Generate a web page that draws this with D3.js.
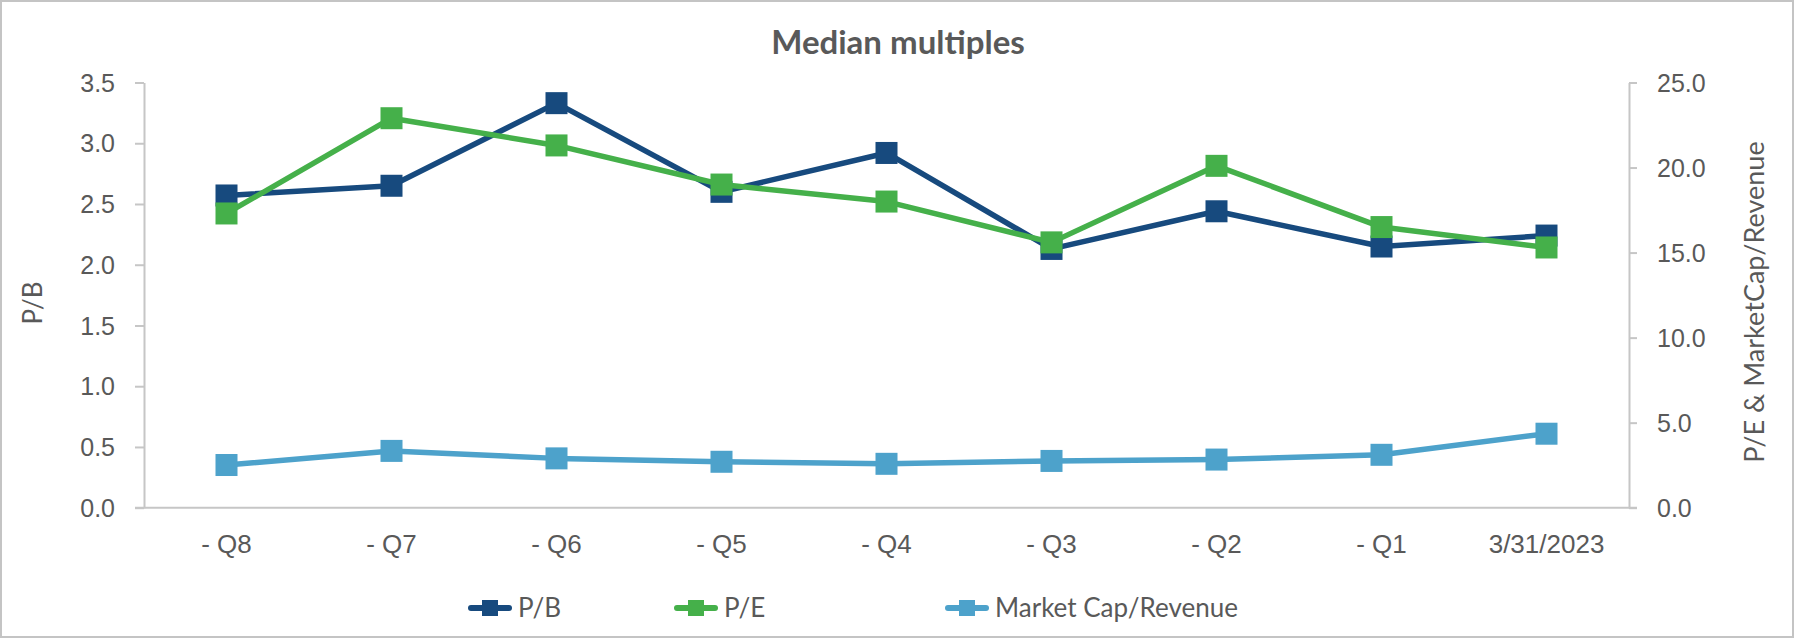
<!DOCTYPE html>
<html>
<head>
<meta charset="utf-8">
<script src="https://cdn.jsdelivr.net/npm/d3@7"></script>
<style>
  html, body { margin: 0; padding: 0; background: #ffffff; }
  svg { display: block; font-family: Lato, "Noto Sans", sans-serif; }
</style>
</head>
<body>
<svg id="chart" width="1794" height="639"></svg>
<script>
// Quarter labels along the category axis
const categories = ["- Q8", "- Q7", "- Q6", "- Q5", "- Q4", "- Q3", "- Q2", "- Q1", "3/31/2023"];

// Median multiples per quarter
const pbValues = [2.57, 2.65, 3.33, 2.60, 2.92, 2.13, 2.44, 2.15, 2.24];
const peValues = [17.3, 22.9, 21.3, 19.0, 18.0, 15.6, 20.1, 16.5, 15.3];
const mcRevValues = [2.51, 3.34, 2.90, 2.70, 2.58, 2.75, 2.83, 3.11, 4.35];

// Axis tick values
const leftTicks = [0, 0.5, 1.0, 1.5, 2.0, 2.5, 3.0, 3.5];
const rightTicks = [0, 5, 10, 15, 20, 25];

const seriesNames = ["P/B", "P/E", "Market Cap/Revenue"];
const seriesColors = ["#174a7e", "#45b04a", "#4da2cb"];

const svg = d3.select("#chart");
const W = 1794, H = 639;
const textColor = "#595959";
const gridColor = "#c6c6c6";

// outer frame
svg.append("rect")
  .attr("x", 1).attr("y", 1).attr("width", W - 2).attr("height", H - 3)
  .attr("fill", "#fff").attr("stroke", "#c4c4c4").attr("stroke-width", 2);

const plot = { left: 144, right: 1629, top: 82.5, bottom: 507.7 };

const x = d3.scaleBand().domain(categories).range([plot.left, plot.right]).padding(0);
const yLeft = d3.scaleLinear().domain([0, 3.5]).range([plot.bottom, plot.top]);
const yRight = d3.scaleLinear().domain([0, 25]).range([plot.bottom, plot.top]);
const cx = c => x(c) + x.bandwidth() / 2;

// title
svg.append("text")
  .attr("x", 898).attr("y", 54)
  .attr("text-anchor", "middle")
  .attr("font-size", 33).attr("font-weight", 700)
  .attr("fill", textColor)
  .text("Median multiples");

function styleAxis(g) {
  g.select(".domain").attr("stroke", gridColor).attr("stroke-width", 2);
  g.selectAll(".tick line").attr("stroke", gridColor).attr("stroke-width", 2);
  g.selectAll(".tick text").attr("fill", textColor).attr("font-size", 25);
}

// left axis (P/B)
svg.append("g")
  .attr("transform", `translate(${plot.left},0)`)
  .call(d3.axisLeft(yLeft).tickValues(leftTicks).tickFormat(d3.format(".1f")).tickSize(9).tickSizeOuter(0).tickPadding(20))
  .call(styleAxis)
  .call(g => g.selectAll(".tick text").attr("dy", "0.35em"));

// right axis (P/E & Market Cap/Revenue)
svg.append("g")
  .attr("transform", `translate(${plot.right},0)`)
  .call(d3.axisRight(yRight).tickValues(rightTicks).tickFormat(d3.format(".1f")).tickSize(8).tickSizeOuter(0).tickPadding(20))
  .call(styleAxis)
  .call(g => g.selectAll(".tick text").attr("dy", "0.35em"));

// category axis
svg.append("g")
  .attr("transform", `translate(0,${plot.bottom})`)
  .call(d3.axisBottom(x).tickSize(0).tickSizeOuter(0).tickPadding(27))
  .call(styleAxis)
  .call(g => g.selectAll(".tick text").attr("font-size", 26))
  .call(g => g.select(".domain").attr("d", `M${plot.left - 9},0H${plot.right + 8}`));

// axis titles
svg.append("text")
  .attr("transform", `translate(42,303) rotate(-90)`)
  .attr("text-anchor", "middle")
  .attr("font-size", 26).attr("fill", textColor)
  .text("P/B");

svg.append("text")
  .attr("transform", `translate(1764,302) rotate(-90)`)
  .attr("text-anchor", "middle")
  .attr("font-size", 27).attr("fill", textColor)
  .text("P/E & MarketCap/Revenue");

// series
const series = [
  { name: seriesNames[0], values: pbValues, y: yLeft, color: seriesColors[0] },
  { name: seriesNames[1], values: peValues, y: yRight, color: seriesColors[1] },
  { name: seriesNames[2], values: mcRevValues, y: yRight, color: seriesColors[2] }
];

const markerSize = 22;
series.forEach(s => {
  const pts = categories.map((c, i) => [cx(c), s.y(s.values[i])]);
  const g = svg.append("g");
  g.append("path")
    .attr("d", d3.line()(pts))
    .attr("fill", "none").attr("stroke", s.color)
    .attr("stroke-width", 5.5).attr("stroke-linejoin", "round");
  g.selectAll("rect").data(pts).join("rect")
    .attr("x", d => d[0] - markerSize / 2)
    .attr("y", d => d[1] - markerSize / 2)
    .attr("width", markerSize).attr("height", markerSize)
    .attr("fill", s.color);
});

// legend
const legendY = 608;
const legendX = [471, 677, 948];
series.forEach((s, i) => {
  const g = svg.append("g").attr("transform", `translate(${legendX[i]},${legendY})`);
  g.append("line")
    .attr("x1", 0).attr("x2", 38).attr("y1", 0).attr("y2", 0)
    .attr("stroke", s.color).attr("stroke-width", 6).attr("stroke-linecap", "round");
  g.append("rect")
    .attr("x", 11).attr("y", -8).attr("width", 16).attr("height", 16)
    .attr("fill", s.color);
  g.append("text")
    .attr("x", 47).attr("y", 0).attr("dy", "0.35em")
    .attr("font-size", 26).attr("fill", textColor)
    .text(s.name);
});
</script>
</body>
</html>
